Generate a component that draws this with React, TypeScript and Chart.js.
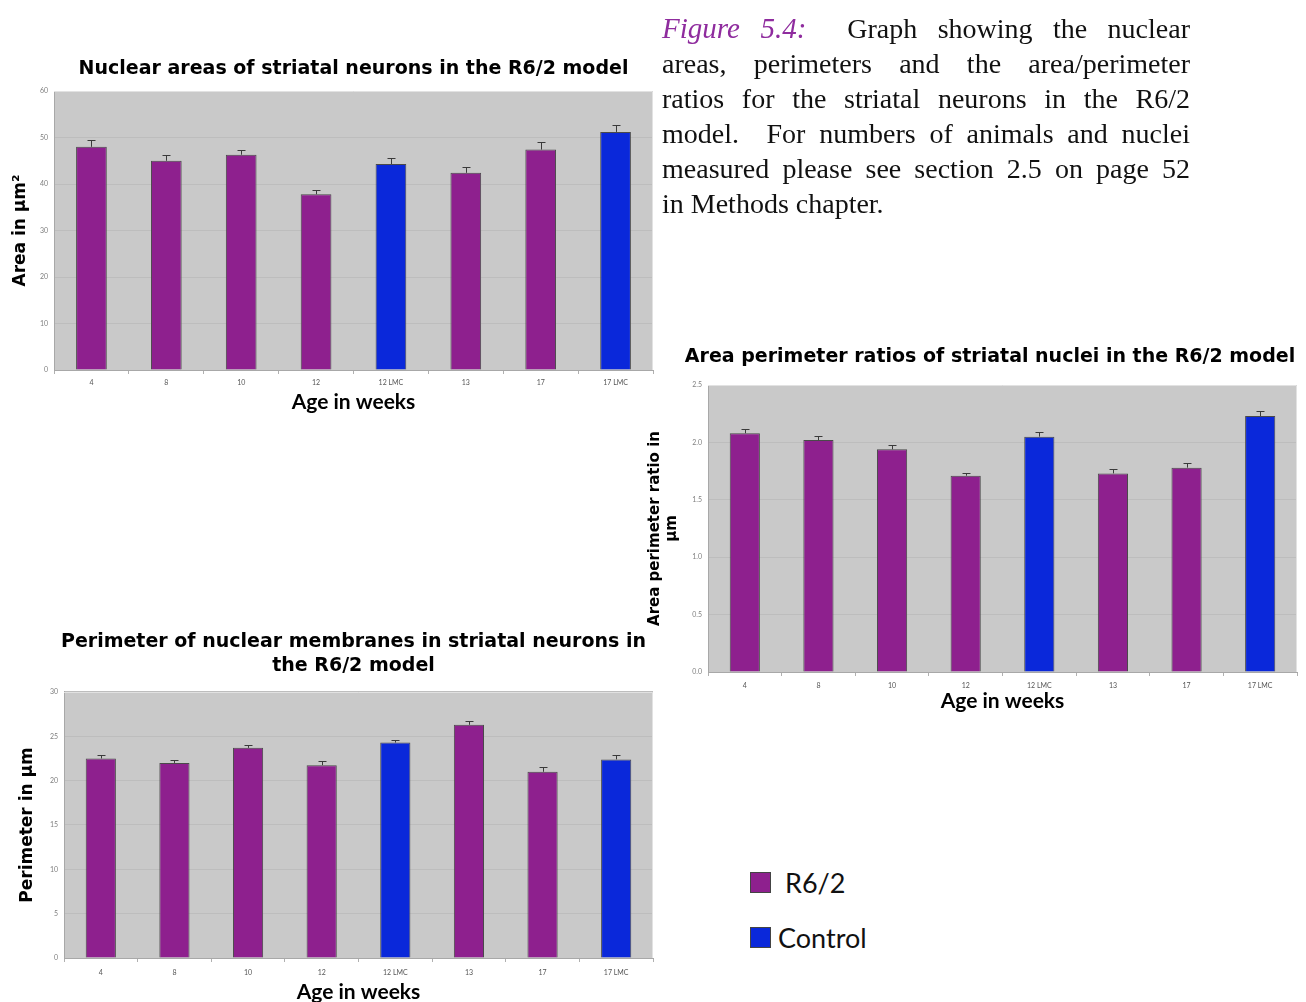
import React, { useEffect, useRef } from 'react';
import { Chart, registerables } from 'chart.js';

Chart.register(...registerables);

const categories = ['4', '8', '10', '12', '12 LMC', '13', '17', '17 LMC'];
const groups = ['R6/2', 'R6/2', 'R6/2', 'R6/2', 'Control', 'R6/2', 'R6/2', 'Control'];
const legendLabels = ['R6/2', 'Control'];

const areaValues = [48.0, 45.0, 46.3, 37.8, 44.3, 42.4, 47.4, 51.2];
const areaErrors = [1.5, 1.2, 1.1, 1.0, 1.3, 1.3, 1.6, 1.4];

const ratioValues = [2.08, 2.02, 1.94, 1.71, 2.05, 1.73, 1.78, 2.23];
const ratioErrors = [0.035, 0.033, 0.035, 0.027, 0.04, 0.04, 0.04, 0.04];

const perimeterValues = [22.5, 22.0, 23.7, 21.75, 24.3, 26.3, 21.0, 22.4];
const perimeterErrors = [0.4, 0.35, 0.37, 0.45, 0.3, 0.42, 0.5, 0.55];

const groupColors: Record<string, string> = { 'R6/2': '#8E208E', Control: '#0A28DA' };

const captionLines = [
  'Graph showing the nuclear',
  'areas, perimeters and the area/perimeter',
  'ratios for the striatal neurons in the R6/2',
  'model.  For numbers of animals and nuclei',
  'measured please see section 2.5 on page 52',
  'in Methods chapter.',
];

const bgPlugin = {
  id: 'plotBg',
  beforeDraw(chart: any) {
    const { ctx, chartArea } = chart;
    if (!chartArea) return;
    ctx.save();
    ctx.fillStyle = '#C9C9C9';
    ctx.fillRect(chartArea.left, chartArea.top, chartArea.right - chartArea.left, chartArea.bottom - chartArea.top);
    ctx.restore();
  },
  beforeDatasetsDraw(chart: any) {
    const { ctx, chartArea } = chart;
    ctx.save();
    ctx.strokeStyle = '#e2e2e2';
    ctx.lineWidth = 1;
    ctx.beginPath();
    ctx.moveTo(chartArea.left, chartArea.top + 0.5);
    ctx.lineTo(chartArea.right - 0.5, chartArea.top + 0.5);
    ctx.lineTo(chartArea.right - 0.5, chartArea.bottom);
    ctx.stroke();
    ctx.restore();
  },
};

const errorBarPlugin = {
  id: 'errorBars',
  afterDatasetsDraw(chart: any) {
    const { ctx } = chart;
    const yScale = chart.scales.y;
    chart.data.datasets.forEach((ds: any, di: number) => {
      const meta = chart.getDatasetMeta(di);
      const errs: number[] = ds.errors || [];
      meta.data.forEach((bar: any, i: number) => {
        const v = ds.data[i];
        const e = errs[i];
        if (v == null || e == null) return;
        const x = Math.round(bar.x) + 0.5;
        const yTop = Math.round(yScale.getPixelForValue(v + e)) + 0.5;
        const yBase = yScale.getPixelForValue(v);
        ctx.save();
        ctx.strokeStyle = '#3a3a3a';
        ctx.lineWidth = 1;
        ctx.beginPath();
        ctx.moveTo(x, yBase);
        ctx.lineTo(x, yTop);
        ctx.moveTo(x - 4, yTop);
        ctx.lineTo(x + 4, yTop);
        ctx.stroke();
        ctx.restore();
      });
    });
  },
};

type Geo = {
  left: number;
  top: number;
  width: number;
  height: number;
  yAxisWidth: number;
  xAxisHeight: number;
  rightSpace: number;
  titlePadTop: number;
  titlePadBottom: number;
  titleLineHeight: number;
  yTitleSize: number;
  yTitleLineHeight: number;
  yTitlePad: number;
  xTickPad: number;
};

type Props = {
  values: number[];
  errors: number[];
  label: string;
  title: string | string[];
  yTitle: string | string[];
  yMax: number;
  yStep: number;
  decimals: number;
  geo: Geo;
};

function BarChart({ values, errors, label, title, yTitle, yMax, yStep, decimals, geo }: Props) {
  const ref = useRef<HTMLCanvasElement | null>(null);
  useEffect(() => {
    if (!ref.current) return;
    const chart = new Chart(ref.current, {
      type: 'bar',
      data: {
        labels: categories,
        datasets: [
          {
            label,
            data: values,
            errors,
            xAxisID: 'x',
            yAxisID: 'y',
            backgroundColor: groups.map((g) => groupColors[g]),
            borderColor: '#4a4a4a',
            borderWidth: 1,
            barPercentage: 0.41,
            categoryPercentage: 1,
          } as any,
        ],
      },
      options: {
        animation: false,
        responsive: false,
        maintainAspectRatio: false,
        layout: { padding: 0 },
        plugins: {
          legend: { display: false },
          tooltip: { enabled: false },
          title: {
            display: true,
            text: title,
            color: '#000',
            font: { family: 'DejaVu Sans', size: 19, weight: 'bold', lineHeight: geo.titleLineHeight },
            padding: { top: geo.titlePadTop, bottom: geo.titlePadBottom },
          },
        },
        scales: {
          x: {
            grid: { display: true, drawOnChartArea: false, drawTicks: true, tickLength: 4, color: '#b0b0b0', offset: true },
            border: { color: '#a8a8a8' },
            ticks: { font: { family: 'Lato', size: 7 }, color: '#555', padding: geo.xTickPad, maxRotation: 0, autoSkip: false },
            title: {
              display: true,
              text: 'Age in weeks',
              color: '#000',
              font: { family: 'Lato', size: 21, weight: 'bold', lineHeight: 1.2 },
              padding: { top: 0, bottom: 4 },
            },
            afterFit: (s: any) => {
              s.height = geo.xAxisHeight;
            },
          },
          y: {
            position: 'left',
            min: 0,
            max: yMax,
            ticks: {
              stepSize: yStep,
              font: { family: 'Lato', size: 7 },
              color: '#808080',
              padding: 6,
              callback: (v: any) => Number(v).toFixed(decimals),
            },
            grid: { color: '#bdbdbd', drawTicks: false },
            border: { color: '#a8a8a8' },
            title: {
              display: true,
              text: yTitle,
              color: '#000',
              font: { family: 'DejaVu Sans', size: geo.yTitleSize, weight: 'bold', lineHeight: geo.yTitleLineHeight },
              padding: { top: geo.yTitlePad, bottom: 0 },
            },
            afterFit: (s: any) => {
              s.width = geo.yAxisWidth;
            },
          },
          yRightSpace: {
            position: 'right',
            display: true,
            min: 0,
            max: yMax,
            grid: { display: false, drawTicks: false },
            ticks: { display: false },
            border: { display: false },
            afterFit: (s: any) => {
              s.width = geo.rightSpace;
            },
          },
        },
      } as any,
      plugins: [bgPlugin, errorBarPlugin],
    });
    return () => chart.destroy();
  }, []);
  return (
    <canvas
      ref={ref}
      width={geo.width}
      height={geo.height}
      style={{ position: 'absolute', left: geo.left, top: geo.top, width: geo.width, height: geo.height }}
    />
  );
}

export default function App() {
  return (
    <div
      style={{
        position: 'absolute',
        left: 0,
        top: 0,
        width: 1306,
        height: 1002,
        overflow: 'hidden',
        background: '#fff',
      }}
    >
      <BarChart
        values={areaValues}
        errors={areaErrors}
        label="Nuclear area"
        title="Nuclear areas of striatal neurons in the R6/2 model"
        yTitle="Area in μm²"
        yMax={60}
        yStep={10}
        decimals={0}
        geo={{
          left: 0,
          top: 50,
          width: 707,
          height: 369,
          yAxisWidth: 54,
          xAxisHeight: 49,
          rightSpace: 54,
          titlePadTop: 7.6,
          titlePadBottom: 10.6,
          titleLineHeight: 1.2,
          yTitleSize: 17,
          yTitleLineHeight: 1.2,
          yTitlePad: 10,
          xTickPad: 5,
        }}
      />
      <BarChart
        values={ratioValues}
        errors={ratioErrors}
        label="Area perimeter ratio"
        title="Area perimeter ratios of striatal nuclei in the R6/2 model"
        yTitle={['Area perimeter ratio in', 'μm']}
        yMax={2.5}
        yStep={0.5}
        decimals={1}
        geo={{
          left: 640,
          top: 338,
          width: 700,
          height: 380,
          yAxisWidth: 68,
          xAxisHeight: 46,
          rightSpace: 43,
          titlePadTop: 7.6,
          titlePadBottom: 16.6,
          titleLineHeight: 1.2,
          yTitleSize: 15,
          yTitleLineHeight: 1.15,
          yTitlePad: 6,
          xTickPad: 6,
        }}
      />
      <BarChart
        values={perimeterValues}
        errors={perimeterErrors}
        label="Perimeter"
        title={['Perimeter of nuclear membranes in striatal neurons in', 'the R6/2 model']}
        yTitle="Perimeter in μm"
        yMax={30}
        yStep={5}
        decimals={0}
        geo={{
          left: 0,
          top: 620,
          width: 707,
          height: 389,
          yAxisWidth: 64,
          xAxisHeight: 51,
          rightSpace: 54,
          titlePadTop: 10,
          titlePadBottom: 14,
          titleLineHeight: 1.263,
          yTitleSize: 17,
          yTitleLineHeight: 1.2,
          yTitlePad: 17,
          xTickPad: 7,
        }}
      />

      <div
        style={{
          position: 'absolute',
          left: 662,
          top: 11,
          width: 528,
          fontFamily: '"Liberation Serif", serif',
          fontSize: 28,
          lineHeight: '35px',
          color: '#111',
        }}
      >
        {captionLines.map((line, i) => (
          <div
            key={i}
            style={{
              whiteSpace: 'pre',
              textAlign: 'justify',
              textAlignLast: i === captionLines.length - 1 ? 'left' : 'justify',
            }}
          >
            {i === 0 ? (
              <>
                <span style={{ fontStyle: 'italic', color: '#8F2C9E', fontSize: 29 }}>Figure 5.4:</span>
                {'  ' + line}
              </>
            ) : (
              line
            )}
          </div>
        ))}
      </div>

      {legendLabels.map((g, i) => (
        <div
          key={g}
          style={{
            position: 'absolute',
            left: 750,
            top: 872 + i * 55,
            display: 'flex',
            alignItems: 'center',
            fontFamily: 'Lato, sans-serif',
            fontSize: 27,
            color: '#111',
            height: 21,
          }}
        >
          <span
            style={{
              display: 'inline-block',
              width: 19,
              height: 19,
              background: groupColors[g],
              border: '1px solid #444',
              marginRight: g === 'R6/2' ? 14 : 7,
            }}
          />
          <span>{g}</span>
        </div>
      ))}
    </div>
  );
}
